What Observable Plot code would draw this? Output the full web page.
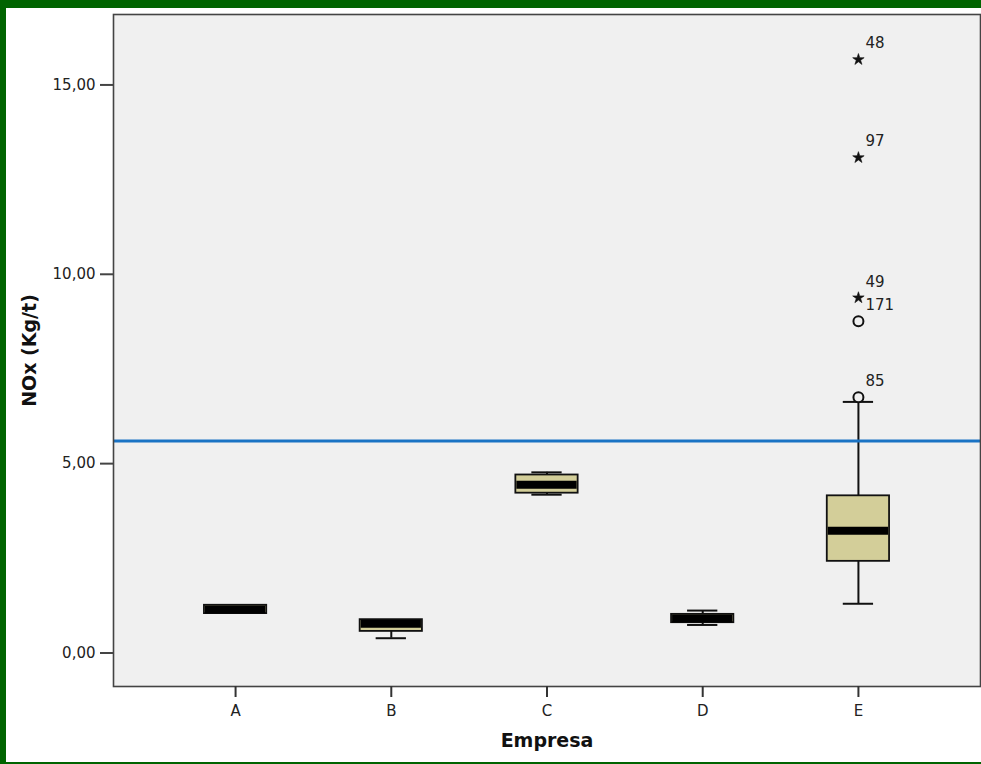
<!DOCTYPE html>
<html>
<head>
<meta charset="utf-8">
<script src="https://cdn.jsdelivr.net/npm/d3@7"></script>
<script src="https://cdn.jsdelivr.net/npm/@observablehq/plot@0.6"></script>
<style>
  html, body { margin: 0; padding: 0; background: #fff; }
  #wrap { position: relative; width: 981px; height: 764px; overflow: hidden; background: #fff; }
  #wrap svg { position: absolute; left: 0; top: 0; }
  .gb { position: absolute; background: #006400; }
</style>
</head>
<body>
<div id="wrap">
  <div id="chart"></div>
  <div class="gb" style="left:0;top:0;width:981px;height:8px"></div>
  <div class="gb" style="left:0;top:0;width:6px;height:764px"></div>
  <div class="gb" style="left:0;top:762px;width:981px;height:2px"></div>
</div>
<script>
// Box statistics per company
const categories = ["A", "B", "C", "D", "E"];
const q1 = [1.04, 0.57, 4.22, 0.80, 2.42];
const medians = [1.15, 0.77, 4.44, 0.91, 3.23];
const q3 = [1.26, 0.88, 4.70, 1.02, 4.15];
const whiskerLow = [1.04, 0.39, 4.18, 0.74, 1.30];
const whiskerHigh = [1.26, 0.88, 4.77, 1.12, 6.63];

// Outliers (circle) and extremes (star)
const outlierCat = ["E", "E", "E", "E", "E"];
const outlierValue = [15.67, 13.08, 9.38, 8.76, 6.75];
const outlierId = ["48", "97", "49", "171", "85"];
const outlierKind = ["extreme", "extreme", "extreme", "outlier", "outlier"];

// Reference line
const referenceValue = [5.6];

const yTicks = [0, 5, 10, 15];

const boxes = categories.map((c, i) => ({
  cat: c, q1: q1[i], med: medians[i], q3: q3[i], lo: whiskerLow[i], hi: whiskerHigh[i]
}));
const outliers = outlierCat.map((c, i) => ({
  cat: c, v: outlierValue[i], id: outlierId[i], kind: outlierKind[i]
}));
const lowW = boxes.filter(d => d.lo < d.q1);
const highW = boxes.filter(d => d.hi > d.q3);

const chart = Plot.plot({
  width: 981,
  height: 764,
  marginLeft: 113,
  marginRight: 1,
  marginTop: 14,
  marginBottom: 78,
  style: { fontFamily: "DejaVu Sans", fontSize: "15px", color: "#222", background: "transparent" },
  x: {
    type: "band",
    domain: categories,
    paddingInner: 0.6,
    paddingOuter: 0.584,
    round: false,
    label: null,
    tickSize: 11,
    tickPadding: 8
  },
  y: {
    domain: [-0.885, 16.86],
    ticks: yTicks,
    tickFormat: d => d.toFixed(2).replace(".", ","),
    label: null,
    tickSize: 13,
    tickPadding: 5
  },
  marks: [
    Plot.frame({ fill: "#f0f0f0", stroke: null }),
    Plot.ruleX(lowW, { x: "cat", y1: "lo", y2: "q1", stroke: "#111", strokeWidth: 2 }),
    Plot.ruleX(highW, { x: "cat", y1: "q3", y2: "hi", stroke: "#111", strokeWidth: 2 }),
    Plot.tickY(lowW, { x: "cat", y: "lo", insetLeft: 16, insetRight: 16, stroke: "#111", strokeWidth: 2 }),
    Plot.tickY(highW, { x: "cat", y: "hi", insetLeft: 16, insetRight: 16, stroke: "#111", strokeWidth: 2 }),
    Plot.barY(boxes, { x: "cat", y1: "q1", y2: "q3", fill: "#d3ce99", stroke: "#111", strokeWidth: 1.8 }),
    Plot.tickY(boxes, { x: "cat", y: "med", stroke: "#000", strokeWidth: 8, insetLeft: 1, insetRight: 1 }),
    Plot.ruleY(referenceValue, { stroke: "#1a73c4", strokeWidth: 3 }),
    Plot.dot(outliers.filter(d => d.kind === "outlier"), {
      x: "cat", y: "v", r: 5, symbol: "circle", stroke: "#111", strokeWidth: 2, fill: "#f0f0f0"
    }),
    Plot.dot(outliers.filter(d => d.kind === "extreme"), {
      x: "cat", y: "v", r: 3.6, symbol: "star", fill: "#111", stroke: "#111", strokeWidth: 0.6
    }),
    Plot.text(outliers, {
      x: "cat", y: "v", text: "id", textAnchor: "start", dx: 7, dy: -16,
      fontSize: 15, fill: "#222"
    }),
    Plot.frame({ stroke: "#444", strokeWidth: 1.6 }),
    Plot.axisY({ ticks: yTicks, tickFormat: d => d.toFixed(2).replace(".", ","), tickSize: 13, tickPadding: 5, stroke: "#444", strokeWidth: 2, label: null }),
    Plot.axisX({ tickSize: 11, tickPadding: 8, stroke: "#333", strokeWidth: 2, label: null }),
    Plot.text(["NOx (Kg/t)"], {
      frameAnchor: "left", text: d => d, rotate: -90, dx: -84, textAnchor: "middle",
      fontWeight: "bold", fontSize: 19, fill: "#111"
    }),
    Plot.text(["Empresa"], {
      frameAnchor: "bottom", text: d => d, dy: 60, textAnchor: "middle",
      fontWeight: "bold", fontSize: 19, fill: "#111"
    })
  ]
});
document.getElementById("chart").appendChild(chart);
</script>
</body>
</html>
